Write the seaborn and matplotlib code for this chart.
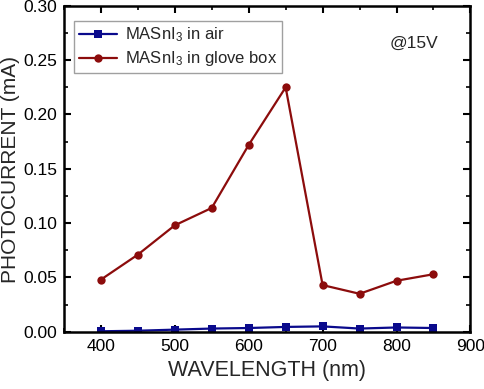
import numpy as np
import pandas as pd
import seaborn as sns
import matplotlib
matplotlib.use("Agg")
import matplotlib.pyplot as plt
from matplotlib.ticker import MultipleLocator

# Data
wavelength = [400, 450, 500, 550, 600, 650, 700, 750, 800, 850]
air = [0.0005, 0.001, 0.002, 0.003, 0.0035, 0.0045, 0.005, 0.003, 0.004, 0.0035]
glove_box = [0.048, 0.071, 0.098, 0.114, 0.172, 0.225, 0.043, 0.035, 0.047, 0.053]

label_air = r"MASnI$_3$ in air"
label_box = r"MASnI$_3$ in glove box"

df = pd.DataFrame({
    "wavelength": wavelength * 2,
    "current": air + glove_box,
    "sample": [label_air] * len(air) + [label_box] * len(glove_box),
})

sns.set_theme(style="ticks")
plt.rcParams["font.family"] = ["Liberation Sans", "DejaVu Sans"]
plt.rcParams["mathtext.fontset"] = "custom"
plt.rcParams["mathtext.rm"] = "Liberation Sans"
plt.rcParams["mathtext.it"] = "Liberation Sans:italic"

fig = plt.figure(figsize=(4.84, 3.89), dpi=100)
ax = fig.add_axes([0.132, 0.147, 0.840, 0.838])

sns.lineplot(data=df, x="wavelength", y="current", hue="sample", style="sample",
             palette={label_air: "#0a0a8c", label_box: "#8c0c0c"},
             markers={label_air: "s", label_box: "o"}, dashes=False,
             markersize=6, linewidth=1.6, markeredgewidth=0, ax=ax)

ax.set_xlim(350, 900)
ax.set_ylim(0, 0.30)
ax.xaxis.set_major_locator(MultipleLocator(100))
ax.xaxis.set_minor_locator(MultipleLocator(50))
ax.yaxis.set_major_locator(MultipleLocator(0.05))
ax.yaxis.set_minor_locator(MultipleLocator(0.025))
ax.set_yticks(np.arange(0, 0.301, 0.05))
ax.set_yticklabels([f"{v:.2f}" for v in np.arange(0, 0.301, 0.05)])
ax.tick_params(which="both", direction="in", top=True, right=True, labelsize=12.5, colors="black")
ax.tick_params(which="major", length=5, width=1.5, pad=5)
ax.tick_params(which="minor", length=3, width=1.2)
for s in ax.spines.values():
    s.set_linewidth(1.8)
    s.set_color("black")

ax.set_xlabel("WAVELENGTH (nm)", fontsize=15.5)
ax.set_ylabel("PHOTOCURRENT (mA)", fontsize=15)
ax.xaxis.set_label_coords(0.5, -0.086)
ax.yaxis.set_label_coords(-0.108, 0.497)

leg = ax.legend(loc="upper left", fontsize=12, frameon=True, fancybox=False,
                edgecolor="#888888", handlelength=2.3, borderpad=0.3,
                labelspacing=0.3, handletextpad=0.45, borderaxespad=0.6,
                bbox_to_anchor=(0.0, 0.985))
leg.get_frame().set_linewidth(1.0)

ax.text(0.86, 0.886, "@15V", transform=ax.transAxes, fontsize=12.5, ha="center", va="center")

fig.savefig("out.png", dpi=100)
